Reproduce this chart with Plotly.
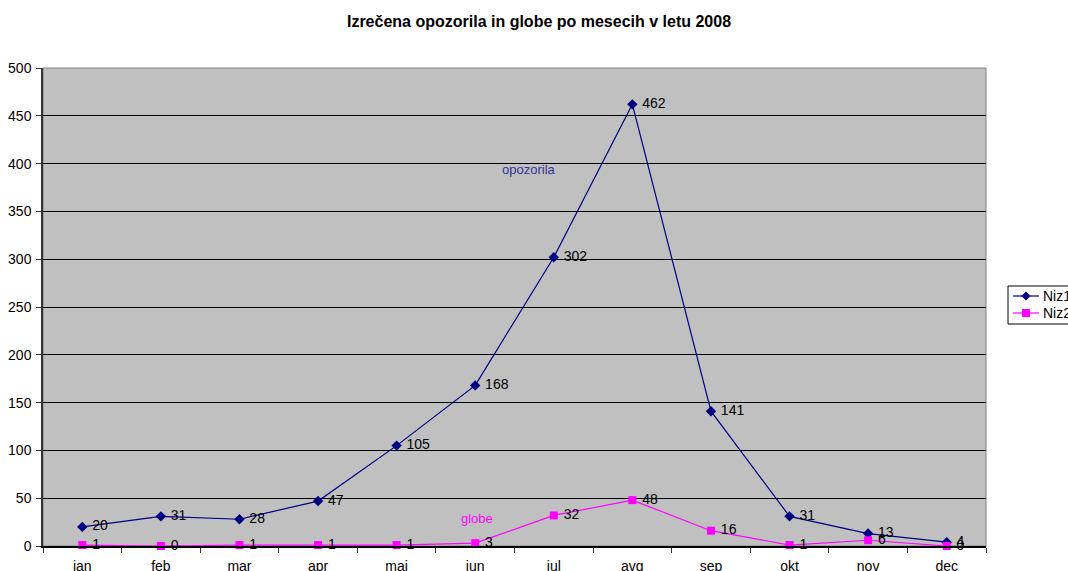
import plotly.graph_objects as go

months = ["jan", "feb", "mar", "apr", "maj", "jun", "jul", "avg", "sep", "okt", "nov", "dec"]
niz1 = [20, 31, 28, 47, 105, 168, 302, 462, 141, 31, 13, 4]
niz2 = [1, 0, 1, 1, 1, 3, 32, 48, 16, 1, 6, 0]
y_ticks = [0, 50, 100, 150, 200, 250, 300, 350, 400, 450, 500]
series_names = ["Niz1", "Niz2"]
series_colors = ["#000080", "#FF00FF"]

W, H = 1068, 571
L, R, T, B = 43, 82, 68, 25
PW, PH = W - L - R, H - T - B


def px(fx):
    return (fx - L) / PW


def py(fy):
    return (H - B - fy) / PH


lbl_font = dict(family="Liberation Sans, Arial", size=14, color="black")

fig = go.Figure()
fig.add_trace(go.Scatter(
    x=months, y=niz1, name=series_names[0], mode="lines+markers+text",
    line=dict(color=series_colors[0], width=1.2),
    marker=dict(symbol="diamond", size=8, color=series_colors[0]),
    text=[" " + str(v) for v in niz1], textposition="middle right",
    textfont=lbl_font, cliponaxis=False,
))
fig.add_trace(go.Scatter(
    x=months, y=niz2, name=series_names[1], mode="lines+markers+text",
    line=dict(color=series_colors[1], width=1.2),
    marker=dict(symbol="square", size=8, color=series_colors[1]),
    text=[" " + str(v) for v in niz2], textposition="middle right",
    textfont=lbl_font, cliponaxis=False,
))

fig.add_annotation(x=5.68, y=394, xref="x", yref="y", text="opozorila", showarrow=False,
                   font=dict(family="Liberation Sans, Arial", size=13, color="#333399"), xanchor="center")
fig.add_annotation(x=5.02, y=29, xref="x", yref="y", text="globe", showarrow=False,
                   font=dict(family="Liberation Sans, Arial", size=13, color="#FF00FF"), xanchor="center")

# legend box (drawn manually so it can run off the right edge like the original)
fig.add_shape(type="rect", xref="paper", yref="paper",
              x0=px(1008), x1=px(1090), y0=py(324), y1=py(286),
              line=dict(color="black", width=1), fillcolor="white", layer="above")
for i, (nm, col) in enumerate(zip(series_names, series_colors)):
    fy = 296 + 17 * i
    fig.add_shape(type="line", xref="paper", yref="paper",
                  x0=px(1013), x1=px(1039), y0=py(fy), y1=py(fy),
                  line=dict(color=col, width=1.2), layer="above")
    if i == 0:
        path = "M {} {} L {} {} L {} {} L {} {} Z".format(
            px(1026), py(fy - 4.5), px(1030.5), py(fy), px(1026), py(fy + 4.5), px(1021.5), py(fy))
    else:
        path = "M {} {} L {} {} L {} {} L {} {} Z".format(
            px(1022), py(fy - 4), px(1030), py(fy - 4), px(1030), py(fy + 4), px(1022), py(fy + 4))
    fig.add_shape(type="path", xref="paper", yref="paper", path=path,
                  fillcolor=col, line=dict(color=col, width=0), layer="above")
    fig.add_annotation(x=px(1041), y=py(fy), xref="paper", yref="paper", text=nm,
                       showarrow=False, xanchor="left", yanchor="middle",
                       font=dict(family="Liberation Sans, Arial", size=14, color="black"))

fig.update_layout(
    width=W, height=H,
    margin=dict(l=L, r=R, t=T, b=B, autoexpand=False),
    paper_bgcolor="white", plot_bgcolor="#C0C0C0",
    font=dict(family="Liberation Sans, Arial", size=13, color="black"),
    title=dict(text="<b>Izrečena opozorila in globe po mesecih v letu 2008</b>",
               x=539 / W, xanchor="center", y=1 - 21 / H, yanchor="middle",
               font=dict(size=16)),
    showlegend=False,
)
fig.update_xaxes(
    type="category", categoryorder="array", categoryarray=months,
    tickson="boundaries", ticks="outside", ticklen=5, tickcolor="#333",
    showline=True, linecolor="black", linewidth=1.5, mirror=False,
    showgrid=False, range=[-0.5, 11.5], tickfont=dict(size=14),
    ticklabelstandoff=6, automargin=False,
)
fig.update_yaxes(
    range=[0, 500], tickvals=y_ticks, ticks="outside", ticklen=5, tickcolor="#333",
    showline=True, linecolor="#333", linewidth=1.5,
    showgrid=True, gridcolor="black", gridwidth=1, zeroline=False,
    tickfont=dict(size=14), ticklabelstandoff=2, automargin=False,
)
fig.add_shape(type="rect", xref="paper", yref="paper", x0=0, y0=0, x1=1, y1=1,
              line=dict(color="#808080", width=1), layer="below")

fig.write_html("out.html", config={"displayModeBar": False},
               post_script="document.body.style.margin='0';document.body.style.overflow='hidden';")
